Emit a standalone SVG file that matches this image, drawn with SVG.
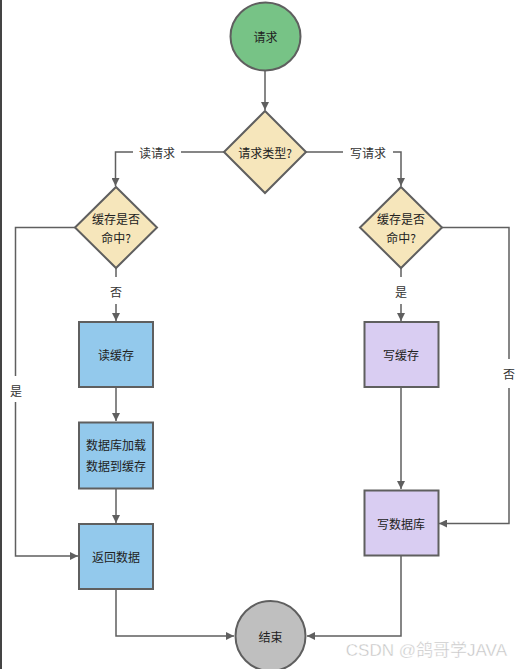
<svg xmlns="http://www.w3.org/2000/svg" width="523" height="669" viewBox="0 0 523 669">
<defs>
<marker id="ah" viewBox="0 0 10 10" refX="10" refY="5" markerWidth="8" markerHeight="8" markerUnits="userSpaceOnUse" orient="auto">
<path d="M0,0 L10,5 L0,10 z" fill="#5f5f5f"/>
</marker>
<style>
.n{stroke:#5f5f5f;stroke-width:2}
.t{font-family:"Noto Sans CJK SC","Liberation Sans",sans-serif;font-size:12px;fill:#222;text-anchor:middle;dominant-baseline:central}
.c{fill:none;stroke:#5f5f5f;stroke-width:1.5}
.l{font-family:"Noto Sans CJK SC","Liberation Sans",sans-serif;font-size:12px;fill:#333;text-anchor:middle;dominant-baseline:central}
.blue{fill:#93c9ec}
.purple{fill:#d9cdf2}
.yellow{fill:#f6e6bb}
</style>
</defs>
<rect width="523" height="669" fill="#ffffff"/>
<line x1="1" y1="0" x2="1" y2="669" stroke="#444" stroke-width="2"/>
<g id="connectors">
<path class="c" d="M265,71 V110" marker-end="url(#ah)"/>
<path class="c" d="M224,152 H181 M133,152 H115.5 V186" marker-end="url(#ah)"/>
<path class="c" d="M306,152 H343 M393,152 H401 V186" marker-end="url(#ah)"/>
<path class="c" d="M116,268 V277 M116,304 V321" marker-end="url(#ah)"/>
<path class="c" d="M75,227.5 H15.5 V376 M15.5,402 V556 H78" marker-end="url(#ah)"/>
<path class="c" d="M116,388 V421" marker-end="url(#ah)"/>
<path class="c" d="M116,489 V523" marker-end="url(#ah)"/>
<path class="c" d="M116,590 V636 H234" marker-end="url(#ah)"/>
<path class="c" d="M401,268 V277 M401,304 V321" marker-end="url(#ah)"/>
<path class="c" d="M401,388 V489" marker-end="url(#ah)"/>
<path class="c" d="M442,227.5 H509 V359 M509,388 V523.5 H439" marker-end="url(#ah)"/>
<path class="c" d="M401,556 V636 H307" marker-end="url(#ah)"/>
<text class="l" x="157" y="152">读请求</text>
<text class="l" x="368" y="152">写请求</text>
<text class="l" x="116" y="291">否</text>
<text class="l" x="401" y="291">是</text>
<text class="l" x="16" y="390">是</text>
<text class="l" x="509" y="373">否</text>
</g>
<g id="start">
<ellipse class="n" cx="265.5" cy="36.5" rx="35" ry="34" fill="#77c386"/>
<text class="t" x="265.5" y="36.5">请求</text>
</g>
<g id="type">
<polygon class="n yellow" points="265,111 306,152 265,193 224,152"/>
<text class="t" x="265" y="152">请求类型?</text>
</g>
<g id="hitL">
<polygon class="n yellow" points="116,187 157,227.5 116,268 75,227.5"/>
<text class="t" x="116" y="218">缓存是否</text>
<text class="t" x="116" y="237">命中?</text>
</g>
<g id="hitR">
<polygon class="n yellow" points="401,187 442,227.5 401,268 360,227.5"/>
<text class="t" x="401" y="218">缓存是否</text>
<text class="t" x="401" y="237">命中?</text>
</g>
<g id="readCache">
<rect class="n blue" x="79" y="322" width="74" height="65"/>
<text class="t" x="116" y="354.5">读缓存</text>
</g>
<g id="loadDb">
<rect class="n blue" x="79" y="422.5" width="74" height="66"/>
<text class="t" x="116" y="444">数据库加载</text>
<text class="t" x="116" y="465">数据到缓存</text>
</g>
<g id="returnData">
<rect class="n blue" x="79" y="524" width="74" height="65"/>
<text class="t" x="116" y="556">返回数据</text>
</g>
<g id="writeCache">
<rect class="n purple" x="364.5" y="322" width="74" height="65"/>
<text class="t" x="401" y="354.5">写缓存</text>
</g>
<g id="writeDb">
<rect class="n purple" x="364.5" y="490.5" width="74" height="65"/>
<text class="t" x="401" y="523">写数据库</text>
</g>
<g id="end">
<circle class="n" cx="270.5" cy="636" r="35" fill="#bfbfbf"/>
<text class="t" x="270.5" y="636">结束</text>
</g>
<text x="507" y="656" text-anchor="end" font-family="'Liberation Sans','Noto Sans CJK SC',sans-serif" font-size="17" fill="#c4c4c4" stroke="#ffffff" stroke-width="0.4">CSDN @鸽哥学JAVA</text>
</svg>
